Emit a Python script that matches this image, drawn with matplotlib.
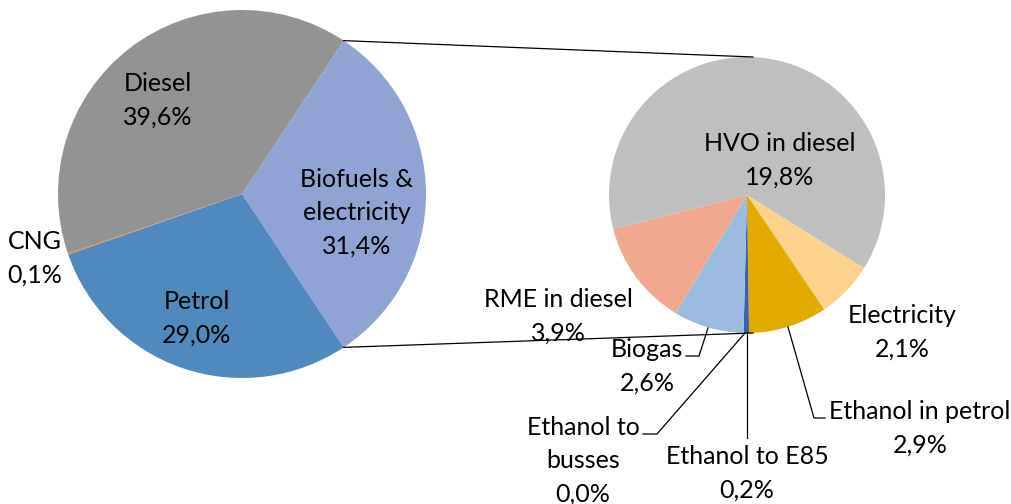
import matplotlib
matplotlib.use("Agg")
import matplotlib.pyplot as plt
import numpy as np

# ---------------- data ----------------
main_labels = ["Biofuels &\nelectricity", "Petrol", "CNG", "Diesel"]
main_values = [31.4, 29.0, 0.1, 39.6]
main_colors = ["#8FA4D4", "#4F8ABE", "#ED7D31", "#939393"]

sub_labels = ["Electricity", "Ethanol in petrol", "Ethanol to E85",
              "Ethanol to\nbusses", "Biogas", "RME in diesel", "HVO in diesel"]
sub_values = [2.1, 2.9, 0.2, 0.0, 2.6, 3.9, 19.8]
sub_colors = ["#FFD28C", "#E2AB00", "#3D5FAD", "#70AD47", "#9BBBE0", "#F0A98C", "#BFBFBF"]

W, H = 1011, 504
plt.rcParams['font.family'] = ['Lato', 'DejaVu Sans']
FS = 18
LS = 1.55

fig = plt.figure(figsize=(W / 100, H / 100), dpi=100)
ax = fig.add_axes([0, 0, 1, 1])

def Y(y_img):
    return H - y_img

def fmt(v):
    return f"{v:.1f}".replace('.', ',') + '%'

# geometry (layout)
c1 = (242, Y(194)); r1 = 184
c2 = (747, Y(195)); r2 = 138

start1 = main_values[0] / sum(main_values) * 180.0
ax.pie(main_values, colors=main_colors, startangle=start1, counterclock=False,
       center=c1, radius=r1, wedgeprops=dict(linewidth=0), frame=False)
ax.pie(sub_values, colors=sub_colors, startangle=-32.0, counterclock=False,
       center=c2, radius=r2, wedgeprops=dict(linewidth=0), frame=False)

# connector lines between the pies
a = np.deg2rad(start1)
p_top = (c1[0] + r1 * np.cos(a), c1[1] + r1 * np.sin(a))
p_bot = (c1[0] + r1 * np.cos(-a), c1[1] + r1 * np.sin(-a))
ax.plot([p_top[0], c2[0] + 6], [p_top[1], c2[1] + r2], color="black", lw=0.9)
ax.plot([p_bot[0], c2[0] + 6], [p_bot[1], c2[1] - r2], color="black", lw=0.9)

# labels main pie
main_pos = {"Biofuels &\nelectricity": (357, 213), "Petrol": (197, 318),
            "CNG": (35, 258), "Diesel": (158, 100)}
for lab, v in zip(main_labels, main_values):
    x, y = main_pos[lab]
    ax.text(x, Y(y), lab + "\n" + fmt(v), ha="center", va="center",
            fontsize=FS, color="#000000", linespacing=LS)

# labels sub pie
sub_pos = {"Electricity": (902, 332), "Ethanol in petrol": (920, 428),
           "Ethanol to E85": (747, 473), "Ethanol to\nbusses": (583, 461),
           "Biogas": (647, 366), "RME in diesel": (558, 316),
           "HVO in diesel": (780, 160)}
for lab, v in zip(sub_labels, sub_values):
    x, y = sub_pos[lab]
    ax.text(x, Y(y), lab + "\n" + fmt(v), ha="center", va="center",
            fontsize=FS, color="#000000", linespacing=LS)

# leader lines (image pixel coordinates)
leaders = [
    [(708, 328), (699, 356), (686, 356)],   # Biogas
    [(745, 333), (657, 434), (643, 434)],   # Ethanol to busses
    [(747, 332), (747, 438)],               # Ethanol to E85
    [(788, 327), (814, 418), (825, 418)],   # Ethanol in petrol
]
for pts in leaders:
    xs = [p[0] for p in pts]
    ys = [Y(p[1]) for p in pts]
    ax.plot(xs, ys, color="black", lw=0.9)

ax.set_xlim(0, W)
ax.set_ylim(0, H)
ax.set_aspect('auto')
ax.axis('off')

fig.savefig("out.png", dpi=100)
